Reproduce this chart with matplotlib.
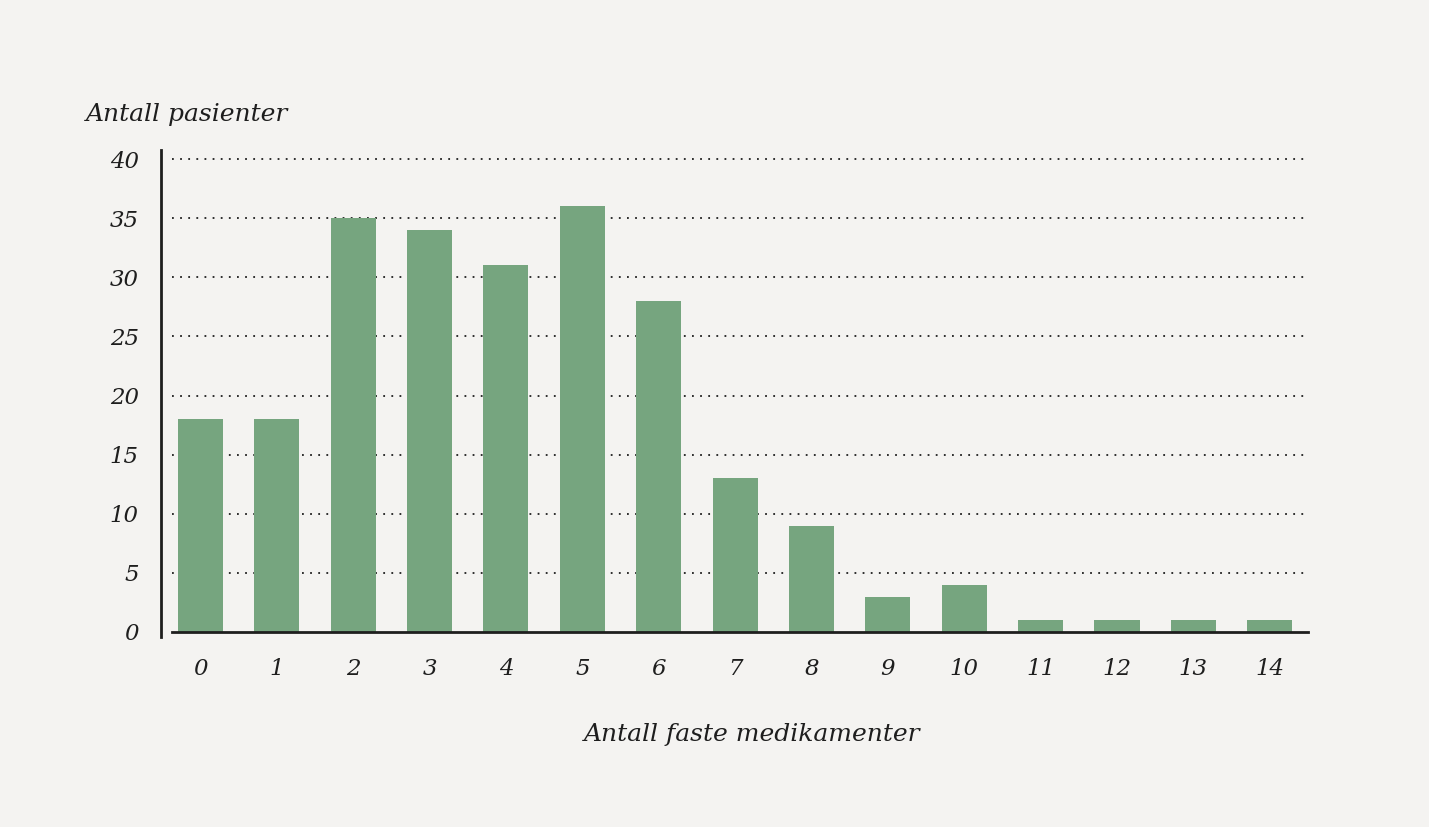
import matplotlib
matplotlib.use("Agg")
import matplotlib.pyplot as plt
from matplotlib.lines import Line2D

medikamenter = list(range(15))
pasienter = [18, 18, 35, 34, 31, 36, 28, 13, 9, 3, 4, 1, 1, 1, 1]
y_ticks = [0, 5, 10, 15, 20, 25, 30, 35, 40]

bg = "#f4f3f1"
bar_color = "#76a57f"
ink = "#1e1e1e"
font = dict(family="DejaVu Serif", style="italic", color=ink)

fig = plt.figure(figsize=(14.29, 8.27), dpi=100, facecolor=bg)
ax = fig.add_axes([0.1204, 0.2358, 0.7949, 0.5719], facecolor=bg)

for v in y_ticks[1:]:
    ax.axhline(v, color=ink, lw=1.3, ls=(0, (1, 3.5)), zorder=1, clip_on=False)
ax.bar(medikamenter, pasienter, width=0.59, color=bar_color, zorder=2)

ax.set_xlim(-0.37, 14.5)
ax.set_ylim(0, 40)
for s in ["top", "right", "left"]:
    ax.spines[s].set_visible(False)
ax.spines["bottom"].set_color(ink)
ax.spines["bottom"].set_linewidth(2)
ax.spines["bottom"].set_zorder(3)

ax.set_xticks(medikamenter)
ax.set_xticklabels([str(m) for m in medikamenter], fontsize=16.5, **font)
ax.set_yticks(y_ticks)
ax.set_yticklabels([str(v) for v in y_ticks], fontsize=16.5, **font)
ax.tick_params(axis="both", length=0)
ax.tick_params(axis="x", pad=19)
ax.tick_params(axis="y", pad=24)

# separate vertical axis line, offset from the plot area
fig.add_artist(Line2D([161 / 1429, 161 / 1429], [1 - 150 / 827, 1 - 637 / 827],
                      color=ink, lw=2))

fig.text(86 / 1429, 1 - 115 / 827, "Antall pasienter", fontsize=18,
         ha="left", va="center", **font)
fig.text(752 / 1429, 1 - 734 / 827, "Antall faste medikamenter", fontsize=18,
         ha="center", va="center", **font)

fig.savefig("out.png", dpi=100, facecolor=bg)
